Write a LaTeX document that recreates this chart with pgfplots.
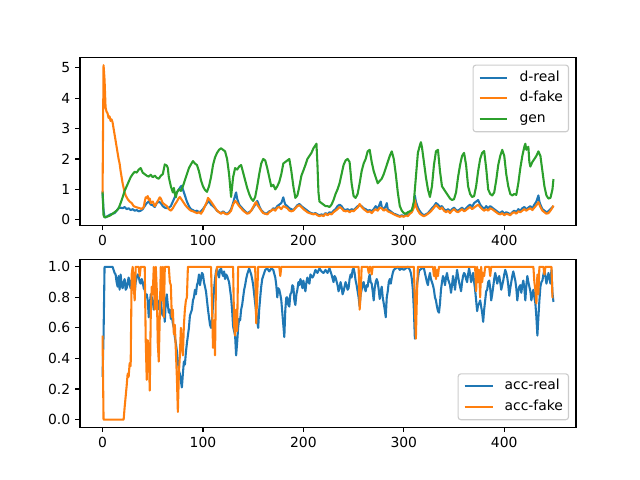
\documentclass[border=0pt]{standalone}
\usepackage{fontspec}
\setmainfont{DejaVu Sans}
\usepackage{pgfplots}
\pgfplotsset{compat=1.18}
\definecolor{tabblue}{HTML}{1F77B4}
\definecolor{taborange}{HTML}{FF7F0E}
\definecolor{tabgreen}{HTML}{2CA02C}
\pgfplotsset{
  mplstyle/.style={
    scale only axis, width=357.12pt, height=120.96pt,
    xmin=-22.45, xmax=471.45,
    axis line style={line width=0.8pt, black},
    tick style={line width=0.8pt, black},
    tick align=outside, major tick length=3.5pt,
    xtick pos=bottom, ytick pos=left,
    xtick={0,100,200,300,400},
    /pgf/number format/assume math mode=true,
    ticklabel style={font=\fontsize{10}{12}\selectfont},
    legend cell align=left,
    legend image code/.code={\draw[##1] (0pt,0pt) -- (20pt,0pt);},
    legend style={draw=black!20, line width=0.8pt, rounded corners=2pt,
      fill=white, fill opacity=0.8, draw opacity=1, text opacity=1,
      inner xsep=4pt, inner ysep=4pt, row sep=5pt,
      font=\fontsize{10}{12}\selectfont,
      nodes={inner sep=0pt, text height=7.5pt, text depth=2.5pt},
      /tikz/every odd column/.append style={column sep=8pt}},
    every axis plot/.append style={line width=1.5pt, line join=round},
  }
}
\begin{document}
\begin{tikzpicture}
\path[use as bounding box] (0,0) rectangle (460.8pt,345.6pt);
\begin{axis}[mplstyle, at={(57.6pt,183.168pt)}, anchor=south west,
  ymin=-0.19, ymax=5.33, ytick={0,1,2,3,4,5},
  legend style={at={(1,1)}, anchor=north east, xshift=-5pt, yshift=-5pt}]
\addplot[tabblue] coordinates {
(0,0.95)(1,0.3)(2,0.1)(3,0.08)(5,0.12)(8,0.18)(10,0.2)(12,0.22)(14,0.3)(16,0.38)(18,0.4)(20,0.38)(22,0.42)(24,0.35)(26,0.38)(28,0.32)(30,0.35)(32,0.3)(34,0.32)(36,0.28)(38,0.3)(40,0.35)(42,0.45)(44,0.55)(46,0.6)(48,0.5)(50,0.48)(52,0.42)(54,0.55)(56,0.6)(58,0.55)(60,0.45)(62,0.4)(64,0.38)(66,0.4)(68,0.45)(70,0.6)(72,0.75)(74,0.9)(76,1.0)(78,1.1)(79,1.12)(80,1.0)(82,0.8)(84,0.6)(86,0.45)(88,0.35)(90,0.32)(92,0.28)(94,0.3)(96,0.25)(98,0.28)(100,0.35)(102,0.45)(104,0.55)(106,0.62)(108,0.5)(110,0.45)(112,0.38)(114,0.3)(116,0.25)(118,0.22)(120,0.28)(122,0.22)(124,0.2)(126,0.25)(128,0.35)(130,0.55)(132,0.8)(133,0.9)(134,0.7)(136,0.5)(138,0.42)(140,0.35)(142,0.28)(144,0.22)(146,0.25)(148,0.3)(150,0.4)(152,0.5)(154,0.62)(155,0.55)(156,0.45)(158,0.32)(160,0.25)(162,0.2)(164,0.22)(166,0.28)(168,0.3)(170,0.38)(172,0.35)(174,0.45)(176,0.5)(178,0.55)(180,0.74)(181,0.6)(182,0.5)(184,0.45)(186,0.38)(188,0.35)(190,0.32)(192,0.4)(194,0.48)(196,0.52)(198,0.45)(200,0.4)(202,0.35)(204,0.3)(206,0.25)(208,0.22)(210,0.2)(212,0.22)(214,0.18)(216,0.15)(218,0.18)(220,0.15)(222,0.22)(224,0.18)(226,0.25)(228,0.22)(230,0.3)(232,0.35)(234,0.45)(236,0.5)(238,0.45)(240,0.35)(242,0.32)(244,0.35)(246,0.3)(248,0.35)(250,0.32)(252,0.38)(254,0.45)(256,0.48)(258,0.45)(260,0.38)(262,0.35)(264,0.3)(266,0.32)(268,0.28)(270,0.35)(272,0.45)(274,0.35)(276,0.52)(277,0.6)(278,0.42)(280,0.35)(282,0.45)(283,0.55)(284,0.35)(286,0.3)(288,0.25)(290,0.2)(292,0.18)(294,0.15)(296,0.12)(298,0.15)(300,0.12)(302,0.18)(304,0.15)(306,0.22)(308,0.3)(310,0.5)(311,0.8)(312,0.6)(314,0.4)(316,0.28)(318,0.2)(320,0.15)(322,0.18)(324,0.22)(326,0.3)(328,0.38)(330,0.45)(332,0.55)(334,0.5)(336,0.42)(338,0.45)(340,0.35)(342,0.3)(344,0.35)(346,0.28)(348,0.35)(350,0.4)(352,0.32)(354,0.3)(356,0.35)(358,0.4)(360,0.32)(362,0.38)(364,0.45)(366,0.5)(368,0.42)(370,0.55)(372,0.6)(374,0.65)(376,0.5)(378,0.42)(380,0.35)(382,0.45)(384,0.38)(386,0.45)(388,0.4)(390,0.35)(392,0.3)(394,0.25)(396,0.22)(398,0.28)(400,0.2)(402,0.25)(404,0.22)(406,0.18)(408,0.25)(410,0.3)(412,0.25)(414,0.35)(416,0.3)(418,0.38)(420,0.42)(422,0.35)(424,0.4)(426,0.45)(428,0.38)(430,0.5)(432,0.6)(434,0.8)(435,0.6)(436,0.5)(438,0.35)(440,0.3)(442,0.25)(444,0.28)(446,0.35)(448,0.42)(449,0.45)
};
\addlegendentry{d-real}
\addplot[taborange] coordinates {
(0,0.85)(1,5.08)(2,4.6)(3,3.7)(4,3.55)(5,3.5)(6,3.35)(7,3.4)(8,3.25)(9,3.3)(10,3.2)(11,3.0)(12,2.8)(13,2.6)(14,2.4)(15,2.2)(16,2.0)(17,1.85)(18,1.6)(19,1.4)(20,1.2)(21,1.05)(22,0.9)(23,0.8)(25,0.68)(27,0.6)(29,0.55)(31,0.45)(33,0.42)(35,0.4)(37,0.38)(39,0.36)(41,0.42)(42,0.6)(43,0.74)(44,0.72)(45,0.78)(46,0.65)(47,0.7)(48,0.55)(50,0.6)(52,0.45)(53,0.5)(55,0.62)(57,0.74)(58,0.7)(60,0.55)(62,0.5)(64,0.45)(66,0.35)(68,0.3)(70,0.38)(72,0.5)(74,0.6)(76,0.72)(77,0.75)(78,0.7)(80,0.6)(82,0.5)(84,0.42)(86,0.35)(88,0.3)(90,0.28)(92,0.25)(94,0.22)(96,0.25)(98,0.2)(100,0.3)(102,0.45)(104,0.6)(105,0.72)(106,0.68)(108,0.6)(110,0.5)(112,0.4)(114,0.3)(116,0.25)(118,0.2)(120,0.25)(122,0.2)(124,0.18)(126,0.22)(128,0.3)(130,0.5)(132,0.62)(133,0.6)(134,0.55)(136,0.45)(138,0.38)(140,0.3)(142,0.25)(144,0.2)(146,0.22)(148,0.3)(150,0.42)(152,0.55)(153,0.58)(154,0.5)(156,0.4)(158,0.3)(160,0.22)(162,0.2)(164,0.18)(166,0.25)(168,0.3)(170,0.35)(172,0.3)(174,0.4)(176,0.42)(178,0.35)(180,0.45)(182,0.42)(184,0.38)(186,0.3)(188,0.28)(190,0.3)(192,0.38)(194,0.45)(196,0.48)(198,0.42)(200,0.35)(202,0.3)(204,0.25)(206,0.22)(208,0.2)(210,0.18)(212,0.2)(214,0.15)(216,0.12)(218,0.15)(220,0.12)(222,0.2)(224,0.15)(226,0.2)(228,0.18)(230,0.25)(232,0.3)(234,0.35)(236,0.42)(238,0.38)(240,0.3)(242,0.28)(244,0.3)(246,0.25)(248,0.3)(250,0.28)(252,0.35)(254,0.4)(256,0.52)(258,0.42)(260,0.35)(262,0.3)(264,0.25)(266,0.28)(268,0.22)(270,0.3)(272,0.35)(274,0.3)(276,0.4)(278,0.38)(280,0.3)(282,0.35)(284,0.28)(286,0.25)(288,0.22)(290,0.18)(292,0.15)(294,0.12)(296,0.1)(298,0.12)(300,0.1)(302,0.15)(304,0.12)(306,0.2)(308,0.25)(310,0.4)(311,0.65)(312,0.45)(314,0.3)(316,0.2)(318,0.15)(320,0.12)(322,0.15)(324,0.2)(326,0.25)(328,0.32)(330,0.4)(332,0.48)(334,0.42)(336,0.35)(338,0.4)(340,0.3)(342,0.25)(344,0.3)(346,0.22)(348,0.3)(350,0.35)(352,0.28)(354,0.25)(356,0.3)(358,0.35)(360,0.28)(362,0.32)(364,0.38)(366,0.42)(368,0.35)(370,0.4)(372,0.45)(374,0.5)(376,0.42)(378,0.35)(380,0.3)(382,0.35)(384,0.3)(386,0.38)(388,0.35)(390,0.3)(392,0.25)(394,0.2)(396,0.18)(398,0.22)(400,0.15)(402,0.2)(404,0.18)(406,0.15)(408,0.22)(410,0.25)(412,0.2)(414,0.28)(416,0.25)(418,0.3)(420,0.35)(422,0.3)(424,0.35)(426,0.38)(428,0.32)(430,0.4)(432,0.48)(434,0.58)(435,0.5)(436,0.42)(438,0.3)(440,0.25)(442,0.2)(444,0.22)(446,0.3)(448,0.4)(449,0.47)
};
\addlegendentry{d-fake}
\addplot[tabgreen] coordinates {
(0,0.9)(1,0.15)(2,0.08)(4,0.1)(6,0.12)(8,0.15)(10,0.2)(12,0.25)(14,0.3)(16,0.38)(18,0.55)(20,0.74)(22,0.95)(24,1.1)(26,1.25)(28,1.4)(30,1.5)(32,1.58)(34,1.55)(36,1.65)(38,1.7)(40,1.55)(42,1.5)(44,1.45)(46,1.42)(48,1.48)(50,1.4)(52,1.45)(54,1.38)(56,1.35)(58,1.45)(60,1.5)(62,1.82)(64,1.78)(65,1.7)(66,1.4)(68,1.1)(70,0.9)(71,1.05)(72,0.85)(73,0.74)(74,0.9)(76,1.0)(78,0.95)(80,1.1)(82,1.3)(84,1.5)(86,1.7)(88,1.82)(90,1.93)(92,1.85)(94,1.8)(96,1.6)(98,1.3)(100,1.1)(102,0.98)(104,0.92)(106,1.1)(108,1.4)(110,1.8)(112,2.05)(114,2.2)(116,2.3)(118,2.35)(120,2.3)(122,2.25)(124,2.0)(126,1.5)(128,0.75)(130,1.4)(132,1.7)(134,1.65)(136,1.75)(138,1.8)(140,1.55)(142,1.3)(144,1.05)(146,0.85)(148,0.7)(150,0.62)(152,0.75)(154,1.1)(156,1.5)(158,1.85)(160,2.0)(162,1.95)(164,1.7)(166,1.4)(168,1.1)(170,1.15)(172,1.0)(174,1.1)(176,1.25)(178,1.5)(180,1.85)(182,1.9)(184,1.95)(186,2.0)(188,1.6)(190,1.1)(192,0.72)(194,0.8)(196,1.1)(198,1.45)(200,1.62)(202,1.8)(204,2.0)(206,2.1)(208,2.2)(210,2.35)(212,2.45)(213,2.5)(214,1.8)(215,0.9)(216,0.6)(218,0.55)(220,0.5)(222,0.45)(224,0.45)(226,0.42)(228,0.5)(230,0.65)(232,0.85)(234,1.0)(236,1.2)(238,1.5)(240,1.8)(242,1.95)(244,2.0)(246,1.9)(248,1.2)(250,0.78)(252,0.72)(254,0.85)(256,1.2)(258,1.6)(260,1.85)(262,2.0)(264,2.25)(266,2.3)(268,1.9)(270,1.6)(272,1.4)(274,1.2)(276,1.28)(278,1.35)(280,1.5)(282,1.7)(284,1.9)(286,2.1)(288,2.25)(290,2.0)(292,1.5)(294,0.9)(296,0.45)(298,0.3)(300,0.22)(302,0.2)(304,0.25)(306,0.28)(308,0.32)(310,0.6)(312,1.4)(314,2.2)(316,2.45)(317,2.55)(318,2.4)(320,1.9)(322,1.4)(324,1.0)(326,0.75)(328,1.1)(330,1.8)(332,2.25)(334,2.3)(336,1.6)(338,1.1)(340,1.0)(342,0.9)(344,0.8)(346,0.7)(348,0.65)(350,0.68)(352,0.9)(354,1.4)(356,1.8)(358,2.1)(360,2.2)(362,1.8)(364,1.1)(366,0.85)(368,0.75)(370,0.78)(372,1.1)(374,1.6)(376,2.0)(378,2.2)(380,2.26)(382,1.7)(384,1.0)(386,0.85)(388,0.8)(390,0.9)(392,1.3)(394,1.8)(396,2.1)(398,2.3)(400,2.1)(402,1.5)(404,1.1)(406,0.85)(408,0.8)(410,0.85)(412,0.82)(414,1.2)(416,1.7)(418,2.1)(420,2.4)(421,2.5)(422,2.3)(424,2.4)(425,1.9)(426,1.75)(428,1.9)(430,2.0)(432,2.1)(434,2.25)(436,2.1)(438,1.6)(440,1.1)(442,0.8)(444,0.7)(446,0.72)(448,1.0)(449,1.34)
};
\addlegendentry{gen}
\end{axis}
\begin{axis}[mplstyle, at={(57.6pt,38.016pt)}, anchor=south west,
  ymin=-0.05, ymax=1.05, ytick={0,0.2,0.4,0.6,0.8,1.0},
  yticklabel style={/pgf/number format/.cd, fixed, fixed zerofill, precision=1},
  legend style={at={(1,0)}, anchor=south east, xshift=-5pt, yshift=5pt}]
\addplot[tabblue] coordinates {
(0,0.28)(1,0.55)(2,1.0)(4,1.0)(6,1.0)(8,1.0)(10,1.0)(11,0.98)(12,0.96)(13,0.95)(14,0.9)(15,0.87)(16,0.94)(17,0.85)(18,0.95)(19,0.88)(20,0.86)(21,0.9)(22,0.92)(23,0.85)(24,0.86)(25,0.9)(26,0.93)(27,0.88)(28,0.86)(29,0.92)(30,0.9)(31,0.85)(32,0.83)(33,0.9)(34,0.93)(35,0.95)(36,0.94)(37,0.9)(38,0.89)(39,0.92)(40,0.9)(41,0.86)(42,0.85)(43,0.8)(44,0.82)(45,0.78)(46,0.67)(47,0.75)(48,0.82)(49,0.8)(50,0.78)(51,0.72)(52,0.75)(53,0.85)(54,0.83)(55,0.72)(56,0.75)(57,0.78)(58,0.8)(59,0.7)(60,0.68)(61,0.72)(62,0.64)(63,0.78)(64,0.82)(65,0.75)(66,0.7)(67,0.72)(68,0.66)(69,0.68)(70,0.63)(71,0.6)(72,0.54)(73,0.5)(74,0.45)(75,0.38)(76,0.32)(77,0.3)(78,0.25)(79,0.21)(80,0.3)(81,0.38)(82,0.36)(83,0.44)(84,0.5)(85,0.55)(86,0.6)(87,0.68)(88,0.7)(89,0.72)(90,0.78)(91,0.8)(92,0.85)(93,0.82)(94,0.88)(95,0.9)(96,0.95)(97,0.88)(98,0.92)(99,0.96)(100,0.95)(101,0.9)(102,0.87)(103,0.84)(104,0.78)(105,0.72)(106,0.67)(107,0.62)(108,0.6)(109,0.65)(110,0.75)(111,0.85)(112,0.92)(113,0.97)(114,0.99)(115,0.95)(116,0.93)(117,0.98)(118,0.99)(119,0.96)(120,0.94)(121,0.97)(122,0.92)(123,0.95)(124,0.94)(125,0.92)(126,0.9)(127,0.85)(128,0.8)(129,0.72)(130,0.61)(131,0.58)(132,0.55)(133,0.42)(134,0.5)(135,0.6)(136,0.66)(137,0.65)(138,0.72)(139,0.75)(140,0.8)(141,0.85)(142,0.88)(143,0.92)(144,0.95)(145,0.97)(146,0.99)(147,0.97)(148,0.95)(149,0.92)(150,0.88)(151,0.82)(152,0.76)(153,0.7)(154,0.64)(155,0.6)(156,0.72)(157,0.8)(158,0.87)(159,0.92)(160,0.94)(162,0.98)(164,0.99)(166,0.97)(168,0.99)(170,0.98)(172,0.93)(173,0.88)(174,0.8)(175,0.86)(176,0.85)(177,0.82)(178,0.78)(179,0.7)(180,0.62)(181,0.54)(182,0.72)(183,0.8)(184,0.8)(185,0.75)(186,0.74)(187,0.82)(188,0.83)(189,0.88)(190,0.87)(191,0.78)(192,0.75)(193,0.82)(194,0.85)(195,0.9)(196,0.88)(197,0.92)(198,0.9)(199,0.86)(200,0.91)(201,0.87)(202,0.84)(203,0.9)(204,0.93)(205,0.9)(206,0.89)(207,0.95)(208,0.94)(209,0.93)(210,0.94)(212,0.98)(214,0.96)(216,0.99)(218,0.97)(220,0.96)(222,0.98)(224,0.96)(226,0.99)(228,0.95)(230,0.9)(231,0.94)(232,0.93)(234,0.88)(235,0.84)(236,0.86)(237,0.9)(238,0.87)(239,0.82)(240,0.84)(241,0.87)(242,0.9)(243,0.88)(244,0.85)(245,0.86)(246,0.92)(247,0.95)(248,0.93)(249,0.98)(250,0.99)(251,0.96)(252,0.91)(253,0.88)(254,0.84)(255,0.8)(256,0.74)(257,0.82)(258,0.85)(259,0.89)(260,0.9)(261,0.86)(262,0.84)(263,0.88)(264,0.87)(265,0.92)(266,0.95)(267,0.9)(268,0.89)(269,0.84)(270,0.78)(271,0.86)(272,0.9)(273,0.92)(274,0.9)(275,0.85)(276,0.79)(277,0.84)(278,0.87)(279,0.8)(280,0.76)(281,0.72)(282,0.67)(283,0.8)(284,0.84)(285,0.9)(286,0.92)(287,0.89)(288,0.93)(289,0.96)(290,0.98)(292,0.99)(294,1.0)(296,0.98)(298,0.99)(300,0.98)(302,0.99)(304,1.0)(306,0.98)(307,0.96)(308,0.92)(309,0.85)(310,0.72)(311,0.53)(312,0.78)(313,0.88)(314,0.92)(315,0.97)(316,0.98)(318,0.99)(320,0.99)(321,0.96)(322,0.93)(323,0.9)(324,0.88)(325,0.93)(326,0.96)(327,0.92)(328,0.9)(329,0.88)(330,0.85)(331,0.8)(332,0.78)(333,0.74)(334,0.71)(335,0.7)(336,0.76)(337,0.85)(338,0.9)(339,0.94)(340,0.92)(341,0.88)(342,0.93)(343,0.96)(344,0.92)(345,0.9)(346,0.88)(347,0.83)(348,0.88)(349,0.94)(350,0.9)(351,0.85)(352,0.92)(353,0.98)(354,0.94)(355,0.9)(356,0.87)(357,0.84)(358,0.9)(359,0.94)(360,0.96)(361,0.95)(362,0.92)(363,0.9)(364,0.95)(365,0.99)(366,0.95)(367,0.9)(368,0.93)(369,0.96)(370,0.9)(371,0.85)(372,0.78)(373,0.71)(374,0.75)(375,0.76)(376,0.78)(377,0.74)(378,0.7)(379,0.64)(380,0.72)(381,0.78)(382,0.84)(383,0.85)(384,0.9)(385,0.91)(386,0.86)(387,0.78)(388,0.82)(389,0.87)(390,0.92)(391,0.96)(392,0.93)(393,0.89)(394,0.92)(395,0.94)(396,0.9)(397,0.85)(398,0.88)(399,0.91)(400,0.95)(401,0.98)(402,0.96)(403,0.93)(404,0.88)(405,0.81)(406,0.86)(407,0.9)(408,0.94)(409,0.97)(410,0.94)(411,0.91)(412,0.86)(413,0.78)(414,0.84)(415,0.87)(416,0.88)(417,0.83)(418,0.88)(419,0.91)(420,0.86)(421,0.78)(422,0.88)(423,0.94)(424,0.9)(425,0.87)(426,0.84)(427,0.78)(428,0.82)(429,0.85)(430,0.8)(431,0.76)(432,0.67)(433,0.55)(434,0.67)(435,0.78)(436,0.87)(437,0.9)(438,0.91)(439,0.95)(440,0.98)(441,0.94)(442,0.89)(443,0.92)(444,0.96)(445,0.93)(446,0.89)(447,0.98)(448,0.83)(449,0.77)
};
\addlegendentry{acc-real}
\addplot[taborange] coordinates {
(0,0.55)(1,0.0)(2,0.0)(21,0.0)(22,0.08)(23,0.15)(24,0.22)(25,0.3)(26,0.28)(27,0.37)(28,0.35)(29,0.95)(30,1.0)(31,0.88)(32,0.78)(33,1.0)(36,1.0)(37,0.94)(38,1.0)(42,1.0)(43,0.52)(44,0.26)(45,0.52)(46,0.45)(47,0.19)(48,0.68)(49,0.87)(50,0.82)(51,1.0)(52,0.72)(53,1.0)(54,0.85)(55,0.5)(56,0.38)(57,0.68)(58,1.0)(59,0.78)(60,1.0)(61,0.67)(62,1.0)(66,1.0)(67,0.9)(68,0.88)(69,0.67)(70,0.72)(71,0.56)(72,0.62)(73,0.45)(74,0.28)(75,0.05)(76,0.3)(77,0.42)(78,0.6)(79,0.5)(80,0.42)(81,0.62)(82,0.72)(83,0.78)(84,0.8)(85,1.0)(108,1.0)(109,0.75)(110,0.47)(111,0.65)(112,0.42)(113,0.95)(114,1.0)(130,1.0)(131,0.62)(132,0.55)(133,0.72)(134,0.58)(135,1.0)(152,1.0)(153,0.63)(154,0.82)(155,1.0)(176,1.0)(177,0.94)(178,1.0)(255,1.0)(256,0.72)(257,0.82)(258,1.0)(264,1.0)(265,0.96)(266,1.0)(267,1.0)(268,0.95)(269,1.0)(310,1.0)(311,0.75)(312,0.53)(313,0.8)(314,1.0)(329,1.0)(330,0.94)(331,1.0)(332,0.92)(333,0.98)(334,0.94)(335,1.0)(371,1.0)(372,0.84)(373,1.0)(374,0.9)(375,0.98)(376,0.8)(377,1.0)(378,0.9)(379,0.96)(380,0.94)(381,1.0)(385,1.0)(386,0.94)(387,1.0)(429,1.0)(430,0.9)(431,0.85)(432,0.76)(433,0.95)(434,0.82)(435,1.0)(439,1.0)(440,0.95)(441,1.0)(447,1.0)(448,0.8)(449,0.8)
};
\addlegendentry{acc-fake}
\end{axis}
\end{tikzpicture}
\end{document}
